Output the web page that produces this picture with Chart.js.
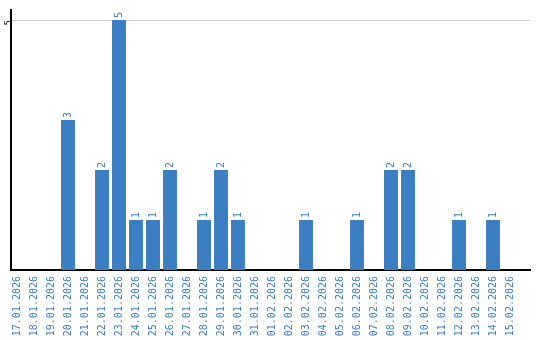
<!DOCTYPE html>
<html>
<head>
<meta charset="utf-8">
<script src="https://cdn.jsdelivr.net/npm/chart.js@4.4.1/dist/chart.umd.min.js"></script>
<style>
  html, body { margin: 0; padding: 0; background: #fff; }
  #wrap { width: 540px; height: 340px; }
</style>
</head>
<body>
<div id="wrap"><canvas id="chart" width="540" height="340"></canvas></div>
<script>
// 날짜 라벨
const dates = [
  '17.01.2026', '18.01.2026', '19.01.2026', '20.01.2026', '21.01.2026',
  '22.01.2026', '23.01.2026', '24.01.2026', '25.01.2026', '26.01.2026',
  '27.01.2026', '28.01.2026', '29.01.2026', '30.01.2026', '31.01.2026',
  '01.02.2026', '02.02.2026', '03.02.2026', '04.02.2026', '05.02.2026',
  '06.02.2026', '07.02.2026', '08.02.2026', '09.02.2026', '10.02.2026',
  '11.02.2026', '12.02.2026', '13.02.2026', '14.02.2026', '15.02.2026'
];
// 날짜별 건수
const counts = [
  0, 0, 0, 3, 0,
  2, 5, 1, 1, 2,
  0, 1, 2, 1, 0,
  0, 0, 1, 0, 0,
  1, 0, 2, 2, 0,
  0, 1, 0, 1, 0
];
const yTicks = [5];

const blue = '#3b7ec2';
const monoFont = { family: 'DejaVu Sans Mono', size: 10 };

// 막대 위 값 표시
const valueLabels = {
  id: 'valueLabels',
  afterDatasetsDraw(chart) {
    const ctx = chart.ctx;
    const meta = chart.getDatasetMeta(0);
    ctx.save();
    ctx.fillStyle = blue;
    ctx.font = '10px "DejaVu Sans Mono"';
    ctx.textAlign = 'left';
    ctx.textBaseline = 'middle';
    meta.data.forEach((bar, i) => {
      if (!counts[i]) return;
      ctx.save();
      ctx.translate(bar.x, bar.y - 2);
      ctx.rotate(-Math.PI / 2);
      ctx.fillText(String(counts[i]), 0, 0);
      ctx.restore();
    });
    ctx.restore();
  }
};

new Chart(document.getElementById('chart'), {
  type: 'bar',
  data: {
    datasets: [{
      data: counts.map((v, i) => ({ x: i, y: v })),
      backgroundColor: blue,
      borderWidth: 0,
      barPercentage: 0.82,
      categoryPercentage: 1
    }]
  },
  options: {
    responsive: false,
    animation: false,
    layout: { padding: { top: 10, right: 10, left: 0, bottom: 0 } },
    plugins: {
      legend: { display: false },
      tooltip: { enabled: false }
    },
    scales: {
      x: {
        type: 'linear',
        offset: false,
        min: -6 / 17,
        max: -6 / 17 + 519 / 17,
        afterBuildTicks: s => { s.ticks = dates.map((_, i) => ({ value: i })); },
        afterFit: s => { s.height = 70; },
        grid: { display: false, drawTicks: false },
        border: { display: true, color: '#000', width: 2 },
        ticks: {
          color: blue,
          font: monoFont,
          minRotation: 90,
          maxRotation: 90,
          autoSkip: false,
          padding: 6,
          callback: v => dates[v]
        }
      },
      y: {
        min: 0,
        max: 5.2,
        afterBuildTicks: s => { s.ticks = yTicks.map(v => ({ value: v })); },
        afterFit: s => { s.width = 11; },
        grid: { color: '#cccccc', lineWidth: 1, drawTicks: false },
        border: { display: true, color: '#000', width: 2 },
        ticks: {
          color: '#000',
          font: { family: 'DejaVu Sans Mono', size: 9 },
          minRotation: 90,
          maxRotation: 90,
          padding: 2
        }
      }
    }
  },
  plugins: [valueLabels]
});
</script>
</body>
</html>
